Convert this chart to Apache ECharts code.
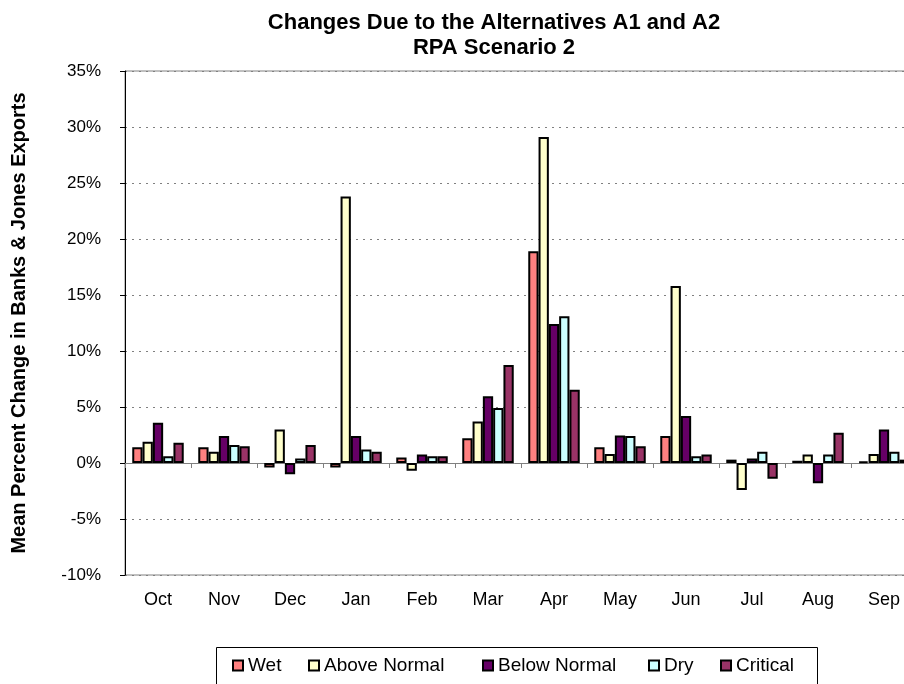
<!DOCTYPE html>
<html>
<head>
<meta charset="utf-8">
<script src="https://cdn.jsdelivr.net/npm/echarts@6/dist/echarts.min.js"></script>
<style>
  html, body { margin: 0; padding: 0; background: #ffffff; }
  #chart { width: 904px; height: 684px; }
</style>
</head>
<body>
<div id="chart"></div>
<script>
// Months of the water year
const months = ['Oct', 'Nov', 'Dec', 'Jan', 'Feb', 'Mar', 'Apr', 'May', 'Jun', 'Jul', 'Aug', 'Sep'];

// Water-year types
const yearTypes = ['Wet', 'Above Normal', 'Below Normal', 'Dry', 'Critical'];

// Mean percent change in Banks & Jones exports, by year type
const wet         = [1.4, 1.4, -0.4, -0.4, 0.5, 2.2, 18.9, 1.4, 2.4, 0.3, 0.2, 0.15];
const aboveNormal = [1.9, 1.0, 3.0, 23.8, -0.7, 3.7, 29.1, 0.8, 15.8, -2.4, 0.75, 0.8];
const belowNormal = [3.6, 2.4, -1.0, 2.4, 0.75, 5.95, 12.4, 2.45, 4.2, 0.4, -1.8, 3.0];
const dry         = [0.6, 1.6, 0.4, 1.2, 0.6, 4.9, 13.1, 2.4, 0.6, 1.0, 0.75, 1.0];
const critical    = [1.8, 1.5, 1.6, 1.0, 0.6, 8.75, 6.55, 1.5, 0.75, -1.4, 2.7, 0.3];

// Value-axis ticks (percent)
const yTicks = [-10, -5, 0, 5, 10, 15, 20, 25, 30, 35];

const seriesValues = [wet, aboveNormal, belowNormal, dry, critical];
const seriesColors = ['#FF8080', '#FFFFCC', '#660066', '#CCFFFF', '#993366'];

// Left offset of each legend entry inside the legend box
const legendLefts = [232, 308, 482, 648, 720];

const FONT = '"Liberation Sans", Arial, Helvetica, sans-serif';

const chart = echarts.init(document.getElementById('chart'), null, { renderer: 'canvas' });

chart.setOption({
  animation: false,
  backgroundColor: '#ffffff',
  textStyle: { fontFamily: FONT, color: '#000' },
  title: {
    text: 'Changes Due to the Alternatives A1 and A2\nRPA Scenario 2',
    left: 489,
    top: 5,
    textAlign: 'center',
    textStyle: {
      fontFamily: FONT,
      fontSize: 22,
      fontWeight: 'bold',
      color: '#000',
      lineHeight: 25
    }
  },
  grid: {
    left: 125,
    top: 71,
    width: 792,
    height: 504,
    containLabel: false,
    outerBoundsMode: 'none',
    show: true,
    borderColor: '#808080',
    borderWidth: 1,
    backgroundColor: 'transparent'
  },
  legend: yearTypes.map((name, i) => ({
    data: [name],
    left: legendLefts[i],
    top: 656,
    padding: 0,
    icon: 'rect',
    itemWidth: 10,
    itemHeight: 10,
    textStyle: { fontFamily: FONT, fontSize: 19, color: '#000' }
  })),
  graphic: [
    {
      type: 'rect',
      shape: { x: 216.5, y: 647.5, width: 601, height: 60 },
      style: { fill: 'none', stroke: '#000', lineWidth: 1 },
      silent: true,
      z: 10
    }
  ],
  xAxis: [
    {
      // month labels along the bottom of the plot
      type: 'category',
      data: months,
      position: 'bottom',
      axisLine: { show: false, onZero: false },
      axisTick: { show: false },
      axisLabel: { fontFamily: FONT, fontSize: 18, color: '#000', margin: 16 },
      splitLine: { show: false }
    },
    {
      // zero baseline with category separators
      type: 'category',
      data: months,
      position: 'top',
      axisLine: { show: true, onZero: true, lineStyle: { color: '#808080', width: 1 } },
      axisTick: { show: true, inside: true, length: 5, lineStyle: { color: '#808080' } },
      axisLabel: { show: false },
      splitLine: { show: false }
    }
  ],
  yAxis: {
    type: 'value',
    min: yTicks[0],
    max: yTicks[yTicks.length - 1],
    interval: 5,
    name: 'Mean Percent Change in Banks & Jones Exports',
    nameLocation: 'middle',
    nameGap: 96,
    nameTextStyle: { fontFamily: FONT, fontSize: 20, fontWeight: 'bold', color: '#000' },
    axisLine: { show: true, lineStyle: { color: '#000', width: 1 } },
    axisTick: { show: true, length: 5, lineStyle: { color: '#000' } },
    axisLabel: {
      fontFamily: FONT,
      fontSize: 17,
      color: '#000',
      margin: 24,
      formatter: '{value}%'
    },
    splitLine: { show: true, lineStyle: { color: '#808080', type: [2, 5], width: 1 } }
  },
  series: yearTypes.map((name, i) => ({
    name: name,
    type: 'bar',
    xAxisIndex: 0,
    data: seriesValues[i],
    barGap: '0%',
    barCategoryGap: '22%',
    itemStyle: {
      color: seriesColors[i],
      borderColor: '#000',
      borderWidth: 2
    }
  }))
});
</script>
</body>
</html>
